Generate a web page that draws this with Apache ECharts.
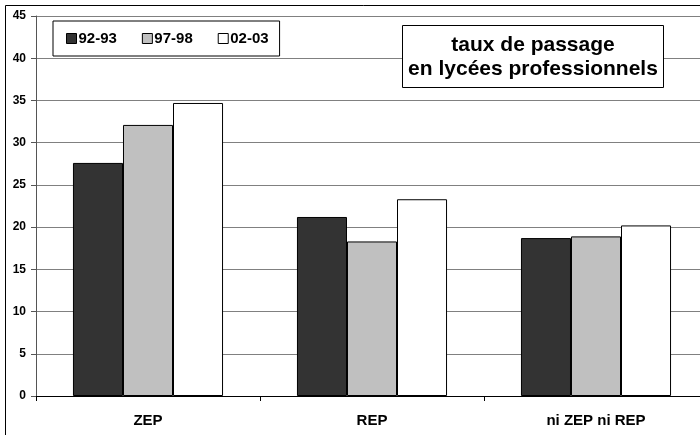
<!DOCTYPE html>
<html><head><meta charset="utf-8">
<script src="https://cdn.jsdelivr.net/npm/echarts@6/dist/echarts.min.js"></script>
<style>html,body{margin:0;padding:0;background:#fff;overflow:hidden}#c{width:720px;height:435px}</style>
</head><body><div id="c"></div>
<script>
const categories = ['ZEP', 'REP', 'ni ZEP ni REP'];
const s9293 = [27.6, 21.2, 18.7];
const s9798 = [32.1, 18.3, 18.9];
const s0203 = [34.7, 23.3, 20.2];
const seriesNames = ['92-93', '97-98', '02-03'];
const seriesColors = ['#333333', '#c0c0c0', '#ffffff'];
const titleText = 'taux de passage\nen lycées professionnels';

const FONT = '"Liberation Sans", Arial, sans-serif';
const chart = echarts.init(document.getElementById('c'));
const data = [s9293, s9798, s0203];
chart.setOption({
  animation: false,
  backgroundColor: '#fff',
  grid: { left: 36, top: 16, right: 12, bottom: 39, containLabel: false },
  legend: {
    left: 53, top: 21,
    padding: [10, 11, 10, 13],
    itemGap: 25,
    itemWidth: 10, itemHeight: 10,
    icon: 'rect',
    backgroundColor: '#fff',
    borderColor: '#000', borderWidth: 1,
    itemStyle: { borderColor: '#000', borderWidth: 1 },
    textStyle: { fontFamily: FONT, fontWeight: 'bold', fontSize: 15, color: '#000', padding: [0,0,0,-3] },
    data: seriesNames
  },
  xAxis: {
    type: 'category', data: categories,
    axisLine: { lineStyle: { color: '#000', width: 1 } },
    axisTick: { show: true, length: 5, lineStyle: { color: '#000' } },
    axisLabel: { fontFamily: FONT, fontWeight: 'bold', fontSize: 15, color: '#000', margin: 17 }
  },
  yAxis: {
    type: 'value', min: 0, max: 45, interval: 5,
    axisLine: { show: true, lineStyle: { color: '#555', width: 1 } },
    axisTick: { show: true, length: 5, lineStyle: { color: '#555' } },
    splitLine: { lineStyle: { color: '#808080', width: 1 } },
    axisLabel: { fontFamily: FONT, fontWeight: 'bold', fontSize: 12, color: '#000', margin: 10 }
  },
  series: seriesNames.map((n, i) => ({
    name: n, type: 'bar', data: data[i],
    barGap: '0%', barCategoryGap: '33%',
    itemStyle: { color: seriesColors[i], borderColor: '#000', borderWidth: 1 }
  })),
  graphic: [
    { type: 'rect', z: 100, shape: { x: 5.5, y: 5.5, width: 1000, height: 1000 },
      style: { fill: 'none', stroke: '#000', lineWidth: 1 }, silent: true },
    { type: 'rect', z: 100, shape: { x: 402.5, y: 25.5, width: 261, height: 62 },
      style: { fill: '#fff', stroke: '#000', lineWidth: 1 } },
    { type: 'text', z: 101, x: 533, y: 57,
      style: { text: titleText, fontFamily: FONT, fontWeight: 'bold', fontSize: 21, lineHeight: 24,
        fill: '#000', textAlign: 'center', textVerticalAlign: 'middle' } }
  ]
});
</script></body></html>
